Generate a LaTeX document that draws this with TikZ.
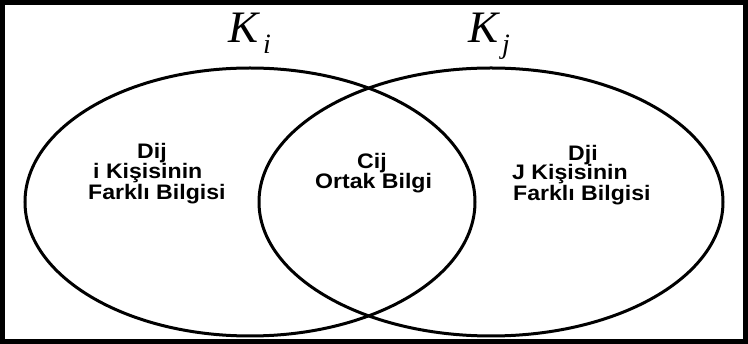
\documentclass[tikz,border=0pt]{standalone}
\usepackage{fontspec}
\newfontfamily\labfont[FakeStretch=1.1]{Liberation Sans}
\newfontfamily\kfont{Liberation Serif}
\begin{document}
\begin{tikzpicture}[x=1pt,y=-1pt,
  lab/.style={font=\labfont\bfseries\fontsize{21}{24}\selectfont, inner sep=0pt, anchor=base west},
  kbig/.style={font=\kfont\itshape\fontsize{45}{50}\selectfont, inner sep=0pt, anchor=base west},
  ksub/.style={font=\kfont\itshape\fontsize{28}{32}\selectfont, inner sep=0pt, anchor=base west},
  venn/.style={draw=black, line width=3pt}]
\useasboundingbox (0,0) rectangle (748,344);
\fill[white] (0,0) rectangle (748,344);
\draw[line width=5pt] (2.5,2.5) rectangle (745.5,341.5);
% circles
\draw[venn] (250,202) ellipse [x radius=225, y radius=134];
\draw[venn] (491,202) ellipse [x radius=232, y radius=134];
% titles
\node[kbig] (ki) at (228,43) {K};
\node[ksub] (kisub) at (263,54) {i};
\node[kbig] (kj) at (468,43) {K};
\node[ksub] (kjsub) at (502,54) {j};
% left
\node[lab] (l1) at (137,159) {Dij};
\node[lab] (l2) at (93,179) {i Kişisinin};
\node[lab] (l3) at (88,200) {Farklı Bilgisi};
% middle
\node[lab] (m1) at (357,169) {Cij};
\node[lab] (m2) at (315,189) {Ortak Bilgi};
% right
\node[lab] (r1) at (568,161) {Dji};
\node[lab] (r2) at (512,180) {J Kişisinin};
\node[lab] (r3) at (513,201) {Farklı Bilgisi};
\end{tikzpicture}
\end{document}
